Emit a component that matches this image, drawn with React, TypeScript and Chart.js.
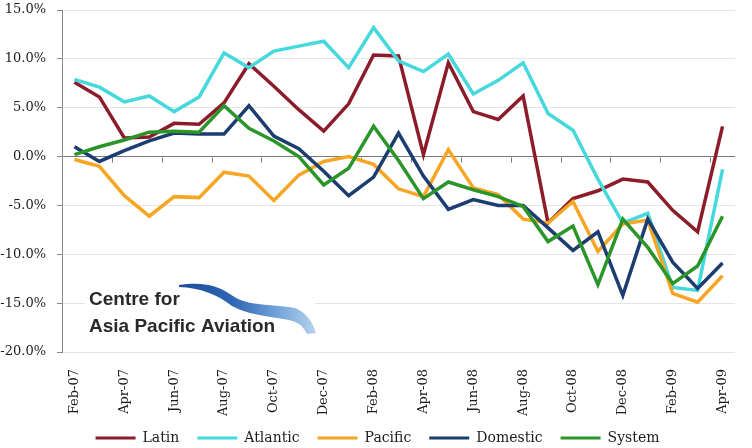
import { useEffect, useRef } from 'react';
import { Chart, registerables } from 'chart.js';

Chart.register(...registerables);

// Monthly year-on-year growth by market, Feb-07 to Apr-09
const months = [
  'Feb-07', 'Mar-07', 'Apr-07', 'May-07', 'Jun-07', 'Jul-07', 'Aug-07', 'Sep-07', 'Oct-07',
  'Nov-07', 'Dec-07', 'Jan-08', 'Feb-08', 'Mar-08', 'Apr-08', 'May-08', 'Jun-08', 'Jul-08',
  'Aug-08', 'Sep-08', 'Oct-08', 'Nov-08', 'Dec-08', 'Jan-09', 'Feb-09', 'Mar-09', 'Apr-09',
];

const latin = [
  7.6, 6.1, 1.9, 2.0, 3.4, 3.3, 5.5, 9.5, 7.2, 4.8, 2.6, 5.4, 10.4, 10.3,
  0.2, 9.6, 4.6, 3.8, 6.2, -6.8, -4.3, -3.5, -2.3, -2.6, -5.5, -7.7, 3.1,
];
const atlantic = [
  7.9, 7.1, 5.6, 6.2, 4.6, 6.1, 10.6, 9.1, 10.8, 11.3, 11.8, 9.1, 13.2, 9.8,
  8.7, 10.5, 6.4, 7.8, 9.6, 4.4, 2.7, -2.3, -6.8, -5.8, -13.4, -13.7, -1.3,
];
const pacific = [
  -0.3, -1.0, -4.0, -6.1, -4.1, -4.2, -1.6, -2.0, -4.5, -1.9, -0.5, 0.0, -0.8, -3.3,
  -4.1, 0.7, -3.2, -3.9, -6.4, -6.8, -4.6, -9.7, -6.9, -6.5, -14.0, -14.9, -12.2,
];
const domestic = [
  1.0, -0.5, 0.6, 1.6, 2.4, 2.3, 2.3, 5.2, 2.1, 0.8, -1.5, -4.0, -2.1, 2.4,
  -2.0, -5.4, -4.4, -5.0, -5.0, -7.3, -9.6, -7.7, -14.2, -6.4, -10.8, -13.5, -10.9,
];
const system = [
  0.2, 1.0, 1.7, 2.5, 2.6, 2.5, 5.2, 2.9, 1.6, 0.0, -2.9, -1.2, 3.1, -0.4,
  -4.3, -2.6, -3.4, -4.1, -5.1, -8.7, -7.1, -13.1, -6.4, -9.3, -13.0, -11.2, -6.1,
];

const seriesNames = ['Latin', 'Atlantic', 'Pacific', 'Domestic', 'System'];
const seriesValues = [latin, atlantic, pacific, domestic, system];
const seriesColors = ['#8c1c2a', '#45d8dc', '#f6a623', '#1c3d70', '#2b952a'];

const yMin = -20;
const yMax = 15;
const yStep = 5;

const serif = 'DejaVu Serif';
const textColor = '#1c1c1c';

// Small tick marks hanging below the zero line, every second month boundary
const zeroLineTicks = {
  id: 'zeroLineTicks',
  beforeDatasetsDraw(chart: any) {
    const { ctx, chartArea, scales } = chart;
    const y0 = Math.round(scales.y.getPixelForValue(0)) + 0.5;
    const n = chart.data.labels.length;
    const w = (chartArea.right - chartArea.left) / n;
    ctx.save();
    ctx.strokeStyle = '#777';
    ctx.lineWidth = 1;
    ctx.beginPath();
    for (let k = 2; k < n; k += 2) {
      const x = Math.round(chartArea.left + k * w) + 0.5;
      ctx.moveTo(x, y0);
      ctx.lineTo(x, y0 + 5);
    }
    ctx.stroke();
    ctx.restore();
  },
};

// Publisher mark in the lower-left of the plot
const publisherMark = {
  id: 'publisherMark',
  beforeDatasetsDraw(chart: any) {
    const { ctx, chartArea } = chart;
    const ox = chartArea.left + 27;
    const oy = chartArea.bottom - 68;
    ctx.save();
    ctx.fillStyle = '#ffffff';
    ctx.fillRect(ox - 4, oy - 6, 230, 62);

    const g = ctx.createLinearGradient(ox + 90, 0, ox + 226, 0);
    g.addColorStop(0, '#1a4c9c');
    g.addColorStop(0.4, '#2f66b4');
    g.addColorStop(0.7, '#6d9fd6');
    g.addColorStop(1, '#b3d2ee');
    ctx.fillStyle = g;
    ctx.beginPath();
    ctx.moveTo(ox + 90, oy + 1);
    ctx.bezierCurveTo(ox + 112, oy - 2, ox + 127, oy, ox + 144, oy + 12);
    ctx.bezierCurveTo(ox + 158, oy + 22, ox + 182, oy + 20, ox + 206, oy + 24);
    ctx.quadraticCurveTo(ox + 221, oy + 30, ox + 227, oy + 49);
    ctx.lineTo(ox + 218, oy + 50);
    ctx.quadraticCurveTo(ox + 212, oy + 38, ox + 200, oy + 36);
    ctx.bezierCurveTo(ox + 177, oy + 32, ox + 157, oy + 30, ox + 143, oy + 22);
    ctx.bezierCurveTo(ox + 127, oy + 10, ox + 112, oy + 4, ox + 90, oy + 3);
    ctx.closePath();
    ctx.fill();

    ctx.fillStyle = '#2a2a2a';
    ctx.font = 'bold 19px "Liberation Sans", Arial, sans-serif';
    ctx.textBaseline = 'alphabetic';
    ctx.textAlign = 'left';
    ctx.fillText('Centre for', ox, oy + 21);
    ctx.fillText('Asia Pacific Aviation', ox, oy + 48);
    ctx.restore();
  },
};

// Nudge the legend row down and right, and let the rotated month labels
// run past the x scale box without being clipped
const layoutTweaks = {
  id: 'layoutTweaks',
  afterLayout(chart: any) {
    const l = chart.legend;
    if (l) {
      l.top += 7;
      l.bottom += 7;
      l.left += 10;
      l.right += 10;
    }
    if (chart.scales.x) chart.scales.x.bottom = chart.height;
  },
};

export default function App() {
  const canvasRef = useRef<HTMLCanvasElement | null>(null);

  useEffect(() => {
    document.body.style.margin = '0';
    const canvas = canvasRef.current;
    if (!canvas) return;

    const chart = new Chart(canvas, {
      type: 'line',
      data: {
        labels: months,
        datasets: seriesNames.map((name, i) => ({
          label: name,
          data: seriesValues[i],
          borderColor: seriesColors[i],
          backgroundColor: seriesColors[i],
          borderWidth: 3.5,
          pointRadius: 0,
          tension: 0,
          fill: false,
          order: seriesNames.length - i,
        })),
      },
      options: {
        responsive: false,
        animation: false,
        devicePixelRatio: 1,
        layout: { padding: { left: 0, right: 17, top: 10, bottom: 0 } },
        plugins: {
          tooltip: { enabled: false },
          legend: {
            position: 'bottom',
            labels: {
              boxWidth: 40,
              boxHeight: 3,
              padding: 18,
              color: textColor,
              font: { family: serif, size: 14 },
              sort: (a: any, b: any) => a.datasetIndex - b.datasetIndex,
              generateLabels: (c: any) =>
                (Chart.defaults.plugins.legend.labels as any)
                  .generateLabels(c)
                  .map((item: any) => ({ ...item, lineWidth: 0, fillStyle: item.strokeStyle })),
            },
          },
        },
        scales: {
          x: {
            type: 'category',
            offset: true,
            grid: { display: false, drawTicks: false },
            border: { display: false },
            ticks: {
              autoSkip: false,
              minRotation: 90,
              maxRotation: 90,
              padding: 17,
              color: textColor,
              font: { family: serif, size: 13 },
              callback: (_v: any, i: number) => (i % 2 === 0 ? months[i] : ''),
            },
            afterFit: (s: any) => {
              s.height = 54;
              s.paddingLeft = 0;
              s.paddingRight = 0;
            },
          },
          y: {
            min: yMin,
            max: yMax,
            ticks: {
              stepSize: yStep,
              padding: 11,
              color: textColor,
              font: { family: serif, size: 13 },
              callback: (v: any) => Number(v).toFixed(1) + '%',
            },
            grid: {
              color: (c: any) => (c.tick && c.tick.value === 0 ? '#7a7a7a' : '#e4e4e4'),
              tickColor: '#888',
              tickLength: 5,
              drawTicks: true,
            },
            border: { display: true, color: '#888' },
            afterFit: (s: any) => {
              s.width = 62;
              s.paddingTop = 0;
              s.paddingBottom = 0;
            },
          },
        },
      },
      plugins: [zeroLineTicks, publisherMark, layoutTweaks],
    } as any);

    return () => chart.destroy();
  }, []);

  return (
    <div style={{ width: 752, height: 448 }}>
      <canvas ref={canvasRef} width={752} height={448} style={{ display: 'block' }} />
    </div>
  );
}
